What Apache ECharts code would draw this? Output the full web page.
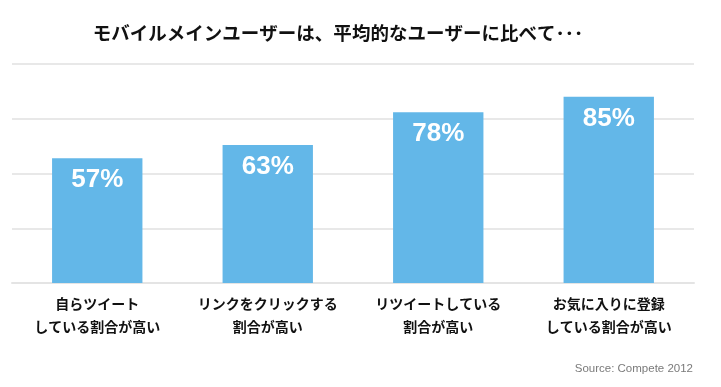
<!DOCTYPE html>
<html>
<head>
<meta charset="utf-8">
<script src="https://cdn.jsdelivr.net/npm/echarts@6/dist/echarts.min.js"></script>
<style>
html,body{margin:0;padding:0;background:#fff;}
#chart{width:721px;height:387px;}
</style>
</head>
<body>
<div id="chart"></div>
<script>
const titleText = 'モバイルメインユーザーは、平均的なユーザーに比べて･･･';
const categories = ['自らツイート\nしている割合が高い', 'リンクをクリックする\n割合が高い', 'リツイートしている\n割合が高い', 'お気に入りに登録\nしている割合が高い'];
const values = [57, 63, 78, 85];
const sourceText = 'Source: Compete 2012';

const chart = echarts.init(document.getElementById('chart'), null, {renderer: 'canvas'});
chart.setOption({
  animation: false,
  backgroundColor: '#ffffff',
  title: [{
    text: titleText,
    left: 333, top: 19, textAlign: 'center',
    textStyle: {fontFamily: '"Noto Sans CJK JP", sans-serif', fontSize: 18.5, fontWeight: 'bold', color: '#111'}
  }, {
    text: sourceText,
    right: 23, top: 358,
    textStyle: {fontFamily: '"Liberation Sans", Arial, sans-serif', fontSize: 11.5, fontWeight: 'normal', color: '#7a7a7a'}
  }],
  grid: {left: 12, right: 27, top: 64, bottom: 104, containLabel: false},
  xAxis: {
    type: 'category', data: categories,
    axisLine: {show: true, lineStyle: {color: '#e4e4e4', width: 2}},
    axisTick: {show: false},
    axisLabel: {
      interval: 0, margin: 9, lineHeight: 23,
      fontFamily: '"Noto Sans CJK JP", sans-serif', fontSize: 14, fontWeight: 'bold', color: '#111'
    }
  },
  yAxis: {
    type: 'value', min: 0, max: 100, interval: 25,
    axisLabel: {show: false}, axisLine: {show: false}, axisTick: {show: false},
    splitLine: {lineStyle: {color: '#e8e8e8', width: 2}}
  },
  series: [{
    type: 'bar', data: values, barWidth: '53%',
    itemStyle: {color: '#63b7e8'},
    label: {
      show: true, position: 'insideTop', distance: 9,
      formatter: '{c}%',
      fontFamily: '"Liberation Sans", Arial, sans-serif', fontSize: 26, fontWeight: 'bold', color: '#ffffff'
    }
  }]
});
</script>
</body>
</html>
